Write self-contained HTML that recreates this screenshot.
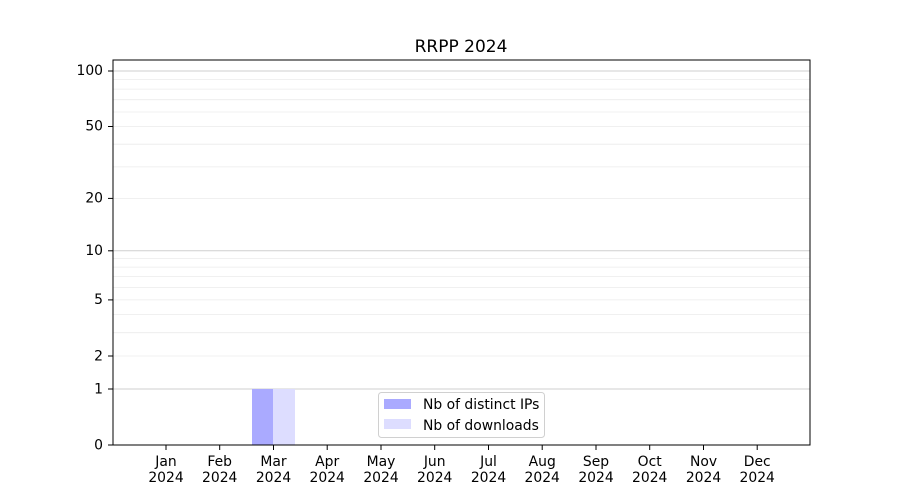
<!DOCTYPE html>
<html><head><meta charset="utf-8"><style>body{margin:0;background:#fff}svg{display:block;font-family:"DejaVu Sans","Liberation Sans",sans-serif}</style></head>
<body>
<svg width="900" height="500" viewBox="0 0 900 500">
<rect width="900" height="500" fill="#fff"/>
<g stroke="#ebebeb" stroke-width="0.8">
<line x1="113" x2="810" y1="356" y2="356"/><line x1="113" x2="810" y1="332.7" y2="332.7"/><line x1="113" x2="810" y1="314.6" y2="314.6"/><line x1="113" x2="810" y1="299.9" y2="299.9"/><line x1="113" x2="810" y1="287.4" y2="287.4"/><line x1="113" x2="810" y1="276.6" y2="276.6"/><line x1="113" x2="810" y1="267.1" y2="267.1"/><line x1="113" x2="810" y1="258.5" y2="258.5"/>
<line x1="113" x2="810" y1="198.4" y2="198.4"/><line x1="113" x2="810" y1="166.9" y2="166.9"/><line x1="113" x2="810" y1="144.2" y2="144.2"/><line x1="113" x2="810" y1="126.5" y2="126.5"/><line x1="113" x2="810" y1="112" y2="112"/><line x1="113" x2="810" y1="99.7" y2="99.7"/><line x1="113" x2="810" y1="89.1" y2="89.1"/><line x1="113" x2="810" y1="79.6" y2="79.6"/>
</g>
<g stroke="#cfcfcf" stroke-width="1">
<line x1="113" x2="810" y1="389" y2="389"/><line x1="113" x2="810" y1="250.8" y2="250.8"/><line x1="113" x2="810" y1="71" y2="71"/>
</g>
<rect x="252" y="389" width="21" height="56" fill="#aaaaff"/>
<rect x="273" y="389" width="22" height="56" fill="#ddddff"/>
<rect x="113" y="60" width="697" height="385" fill="none" stroke="#000" stroke-width="1"/>
<text x="461" y="52" font-size="17" text-anchor="middle">RRPP 2024</text>
<g font-size="13.9" text-anchor="end" fill="#000">
<text x="103" y="449.5">0</text><text x="103" y="393.5">1</text><text x="103" y="360.5">2</text><text x="103" y="304">5</text><text x="103" y="255">10</text><text x="103" y="202.5">20</text><text x="103" y="130.5">50</text><text x="103" y="75">100</text>
</g>
<g stroke="#000"><line x1="108" x2="113" y1="445" y2="445"/><line x1="108" x2="113" y1="389" y2="389"/><line x1="108" x2="113" y1="356" y2="356"/><line x1="108" x2="113" y1="299.9" y2="299.9"/><line x1="108" x2="113" y1="250.8" y2="250.8"/><line x1="108" x2="113" y1="198.4" y2="198.4"/><line x1="108" x2="113" y1="126.5" y2="126.5"/><line x1="108" x2="113" y1="71" y2="71"/></g>
<g font-size="13.9" text-anchor="middle">
<g transform="translate(166,0)"><line x1="0" x2="0" y1="445" y2="450" stroke="#000"/><text y="466">Jan</text><text y="482">2024</text></g>
<g transform="translate(219.7,0)"><line x1="0" x2="0" y1="445" y2="450" stroke="#000"/><text y="466">Feb</text><text y="482">2024</text></g>
<g transform="translate(273.5,0)"><line x1="0" x2="0" y1="445" y2="450" stroke="#000"/><text y="466">Mar</text><text y="482">2024</text></g>
<g transform="translate(327.2,0)"><line x1="0" x2="0" y1="445" y2="450" stroke="#000"/><text y="466">Apr</text><text y="482">2024</text></g>
<g transform="translate(381,0)"><line x1="0" x2="0" y1="445" y2="450" stroke="#000"/><text y="466">May</text><text y="482">2024</text></g>
<g transform="translate(434.7,0)"><line x1="0" x2="0" y1="445" y2="450" stroke="#000"/><text y="466">Jun</text><text y="482">2024</text></g>
<g transform="translate(488.5,0)"><line x1="0" x2="0" y1="445" y2="450" stroke="#000"/><text y="466">Jul</text><text y="482">2024</text></g>
<g transform="translate(542.2,0)"><line x1="0" x2="0" y1="445" y2="450" stroke="#000"/><text y="466">Aug</text><text y="482">2024</text></g>
<g transform="translate(596,0)"><line x1="0" x2="0" y1="445" y2="450" stroke="#000"/><text y="466">Sep</text><text y="482">2024</text></g>
<g transform="translate(649.7,0)"><line x1="0" x2="0" y1="445" y2="450" stroke="#000"/><text y="466">Oct</text><text y="482">2024</text></g>
<g transform="translate(703.5,0)"><line x1="0" x2="0" y1="445" y2="450" stroke="#000"/><text y="466">Nov</text><text y="482">2024</text></g>
<g transform="translate(757.2,0)"><line x1="0" x2="0" y1="445" y2="450" stroke="#000"/><text y="466">Dec</text><text y="482">2024</text></g>
</g>
<rect x="378.5" y="392.5" width="166" height="45" rx="3" fill="#fff" fill-opacity="0.8" stroke="#d0d0d0"/>
<rect x="384" y="399" width="27" height="10" fill="#aaaaff"/>
<rect x="384" y="419" width="27" height="10" fill="#ddddff"/>
<text x="423" y="409" font-size="13.9">Nb of distinct IPs</text>
<text x="423" y="430" font-size="13.9">Nb of downloads</text>
</svg>
</body></html>
